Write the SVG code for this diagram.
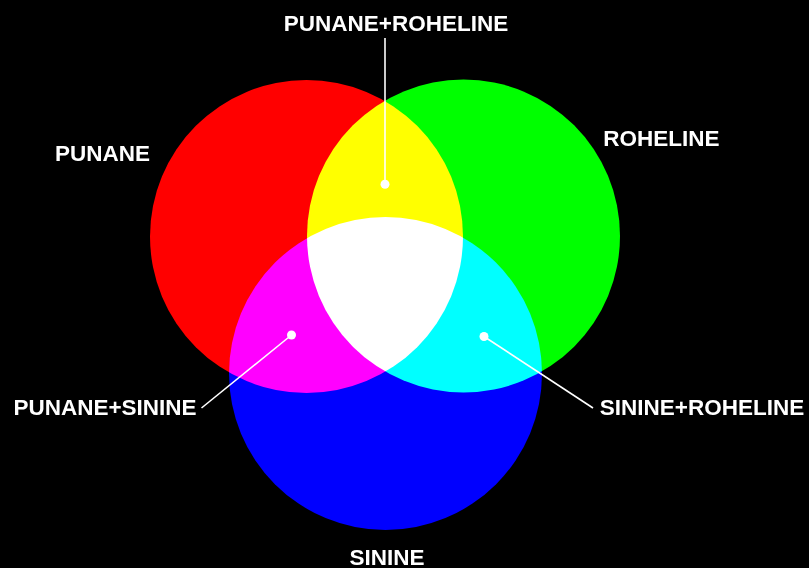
<svg xmlns="http://www.w3.org/2000/svg" width="809" height="568" viewBox="0 0 809 568">
<style>
.c{mix-blend-mode:screen}
.lbl{font-family:"Liberation Sans",Arial,sans-serif;font-weight:bold;font-size:22.5px;fill:#fff}
.ld{stroke:#fff;stroke-width:1.6;fill:none}
.dot{fill:#fff}
</style>
<rect width="809" height="568" fill="#000"/>
<g id="circles" style="isolation:isolate">
<g id="red"><circle class="c" cx="306.5" cy="236.5" r="156.5" fill="#ff0000"/></g>
<g id="green"><circle class="c" cx="463.5" cy="236" r="156.5" fill="#00ff00"/></g>
<g id="blue"><circle class="c" cx="385.5" cy="373.5" r="156.5" fill="#0000ff"/></g>
</g>
<g id="connectors">
<line class="ld" x1="385" y1="38" x2="385" y2="184"/>
<line class="ld" x1="291.5" y1="335" x2="201.5" y2="408"/>
<line class="ld" x1="484" y1="336.5" x2="593" y2="408"/>
<circle class="dot" cx="385" cy="184.3" r="4.5"/>
<circle class="dot" cx="291.5" cy="335" r="4.5"/>
<circle class="dot" cx="484" cy="336.5" r="4.5"/>
</g>
<g id="label-top"><text class="lbl" x="396" y="31" text-anchor="middle">PUNANE+ROHELINE</text></g>
<g id="label-red"><text class="lbl" x="102.5" y="161" text-anchor="middle">PUNANE</text></g>
<g id="label-green"><text class="lbl" x="661.5" y="146" text-anchor="middle">ROHELINE</text></g>
<g id="label-magenta"><text class="lbl" x="105" y="415" text-anchor="middle">PUNANE+SININE</text></g>
<g id="label-cyan"><text class="lbl" x="702" y="415" text-anchor="middle">SININE+ROHELINE</text></g>
<g id="label-blue"><text class="lbl" x="387" y="565" text-anchor="middle">SININE</text></g>
</svg>
